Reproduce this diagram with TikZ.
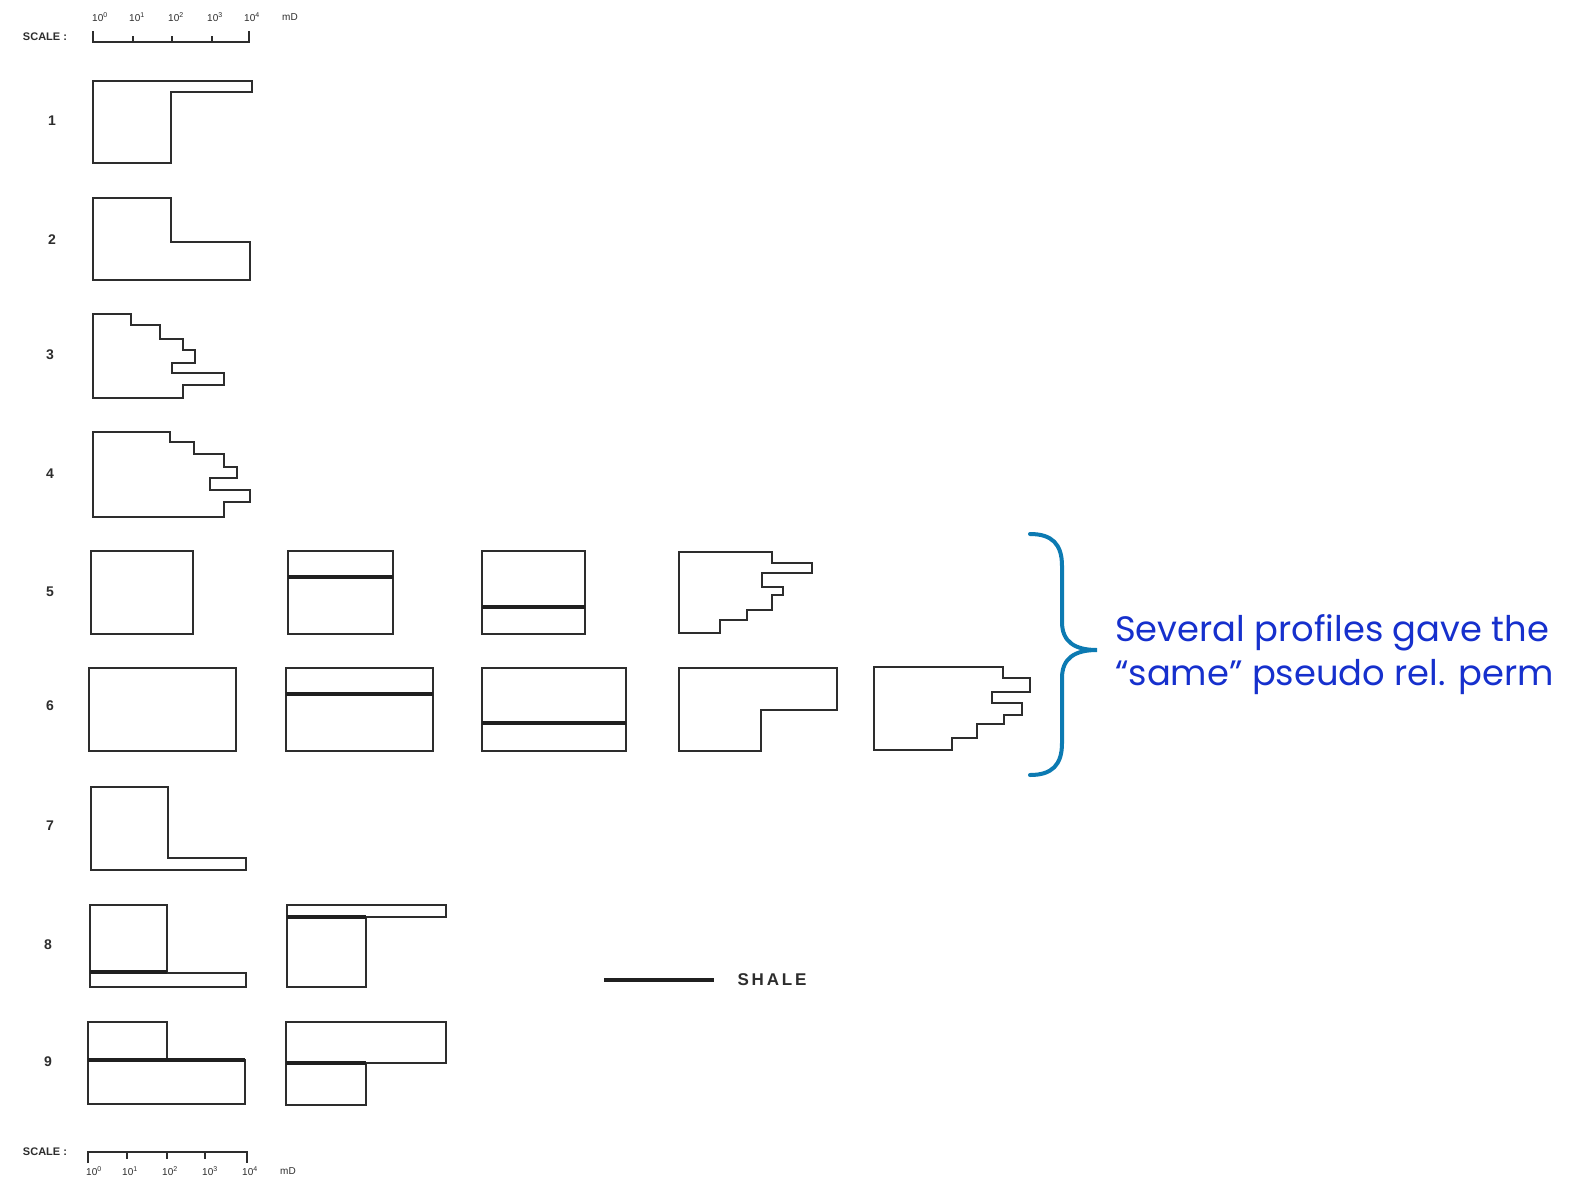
\documentclass[tikz,border=0pt]{standalone}
\usepackage{fontspec}
\setsansfont{Liberation Sans}
\newfontfamily\notefont{Poppins}
\definecolor{ink}{RGB}{45,45,45}
\definecolor{bracecol}{RGB}{12,122,178}
\definecolor{notecol}{RGB}{22,48,205}

\begin{document}
\begin{tikzpicture}[x=1pt,y=-1pt,
  prof/.style={draw=ink, line width=2.3pt, line join=miter},
  shale/.style={draw=ink!70!black, line width=4pt},
  rownum/.style={font=\sffamily\bfseries\fontsize{14}{14}\selectfont, text=ink, inner sep=0pt},
  scalelbl/.style={font=\sffamily\fontsize{10}{10}\selectfont, text=ink, inner sep=0pt},
  scaletxt/.style={font=\sffamily\bfseries\fontsize{11}{11}\selectfont, text=ink, inner sep=0pt},
  scaleline/.style={draw=ink, line width=1.5pt},
  note/.style={font=\notefont\fontsize{35.3}{44}\selectfont, text=notecol, inner sep=0pt, anchor=base west},
]
\useasboundingbox (0,0) rectangle (1579,1186);
\fill[white] (0,0) rectangle (1579,1186);

% ---------- permeability scale, top ----------
\node[scaletxt] (scaleT) at (45,37) {SCALE :};
\draw[scaleline] (93,31) -- (93,42) -- (249,42) -- (249,31);
\foreach \tx in {133,172,212} \draw[scaleline] (\tx,36) -- (\tx,42);
\foreach \tx/\ex [count=\i] in {100/0,137/1,176/2,215/3,252/4}
  \node[scalelbl] (topL\i) at (\tx,17) {10\textsuperscript{\ex}};
\node[scalelbl] (topmD) at (290,17) {mD};

% ---------- row labels ----------
\node[rownum] (n1) at (52,121) {1};
\node[rownum] (n2) at (52,240) {2};
\node[rownum] (n3) at (50,355) {3};
\node[rownum] (n4) at (50,474) {4};
\node[rownum] (n5) at (50,592) {5};
\node[rownum] (n6) at (50,706) {6};
\node[rownum] (n7) at (50,826) {7};
\node[rownum] (n8) at (48,945) {8};
\node[rownum] (n9) at (48,1062) {9};

% ---------- profile 1 ----------
\draw[prof] (93,81) -- (252,81) -- (252,92) -- (171,92) -- (171,163) -- (93,163) -- cycle;
% ---------- profile 2 ----------
\draw[prof] (93,198) -- (171,198) -- (171,242) -- (250,242) -- (250,280) -- (93,280) -- cycle;
% ---------- profile 3 ----------
\draw[prof] (93,314) -- (131,314) -- (131,325) -- (160,325) -- (160,339) -- (183,339)
  -- (183,350) -- (195,350) -- (195,363) -- (172,363) -- (172,373) -- (224,373)
  -- (224,385) -- (183,385) -- (183,398) -- (93,398) -- cycle;
% ---------- profile 4 ----------
\draw[prof] (93,432) -- (170,432) -- (170,442) -- (194,442) -- (194,454) -- (224,454)
  -- (224,467) -- (237,467) -- (237,478) -- (210,478) -- (210,490) -- (250,490)
  -- (250,502) -- (224,502) -- (224,517) -- (93,517) -- cycle;

% ---------- row 5 ----------
\draw[prof] (91,551) rectangle (193,634);
\draw[prof] (288,551) rectangle (393,634);
\draw[shale] (288,577) -- (393,577);
\draw[prof] (482,551) rectangle (585,634);
\draw[shale] (482,607) -- (585,607);
\draw[prof] (679,552) -- (772,552) -- (772,563) -- (812,563) -- (812,573) -- (762,573)
  -- (762,587) -- (783,587) -- (783,595) -- (772,595) -- (772,610) -- (747,610)
  -- (747,620) -- (720,620) -- (720,633) -- (679,633) -- cycle;

% ---------- row 6 ----------
\draw[prof] (89,668) rectangle (236,751);
\draw[prof] (286,668) rectangle (433,751);
\draw[shale] (286,694) -- (433,694);
\draw[prof] (482,668) rectangle (626,751);
\draw[shale] (482,723) -- (626,723);
\draw[prof] (679,668) -- (837,668) -- (837,710) -- (761,710) -- (761,751) -- (679,751) -- cycle;
\draw[prof] (874,667) -- (1003,667) -- (1003,678) -- (1030,678) -- (1030,692) -- (992,692)
  -- (992,703) -- (1022,703) -- (1022,715) -- (1004,715) -- (1004,724) -- (977,724)
  -- (977,738) -- (952,738) -- (952,750) -- (874,750) -- cycle;

% ---------- row 7 ----------
\draw[prof] (91,787) -- (168,787) -- (168,858) -- (246,858) -- (246,870) -- (91,870) -- cycle;

% ---------- row 8 ----------
\draw[prof] (90,905) -- (167,905) -- (167,973) -- (246,973) -- (246,987) -- (90,987) -- cycle;
\draw[shale] (90,972) -- (167,972);
\draw[prof] (287,905) -- (446,905) -- (446,917) -- (366,917) -- (366,987) -- (287,987) -- cycle;
\draw[shale] (287,917) -- (366,917);

% ---------- row 9 ----------
\draw[prof] (88,1022) -- (167,1022) -- (167,1060) -- (245,1060) -- (245,1104) -- (88,1104) -- cycle;
\draw[shale] (88,1060) -- (245,1060);
\draw[prof] (286,1022) -- (446,1022) -- (446,1063) -- (366,1063) -- (366,1105) -- (286,1105) -- cycle;
\draw[shale] (286,1063) -- (366,1063);

% ---------- shale legend ----------
\coordinate (legA) at (604,980);
\coordinate (legB) at (714,980);
\draw[shale] (legA) -- (legB);
\node[font=\sffamily\bfseries\fontsize{17}{17}\selectfont, text=ink, inner sep=0pt] (legT) at (772,980) {S\,H\,A\,L\,E};

% ---------- permeability scale, bottom ----------
\node[scaletxt] (scaleB) at (45,1152) {SCALE :};
\draw[scaleline] (88,1163) -- (88,1152) -- (247,1152) -- (247,1163);
\foreach \tx in {127,167,205} \draw[scaleline] (\tx,1152) -- (\tx,1159);
\foreach \tx/\ex [count=\i] in {94/0,130/1,170/2,210/3,250/4}
  \node[scalelbl] (botL\i) at (\tx,1171) {10\textsuperscript{\ex}};
\node[scalelbl] (botmD) at (288,1171) {mD};

% ---------- brace and note ----------
\coordinate (brTop) at (1030,534);
\coordinate (brTip) at (1097,650);
\coordinate (brBot) at (1030,775);
\draw[bracecol, line width=4pt, line cap=round]
  (brTop) .. controls (1052,534) and (1062,544) .. (1062,566) -- (1062,622)
  .. controls (1062,642) and (1075,650) .. (brTip)
  .. controls (1075,650) and (1062,658) .. (1062,678) -- (1062,743)
  .. controls (1062,765) and (1052,775) .. (brBot);
\node[note] (note1) at (1115,641) {Several profiles gave the};
\node[note] (note2) at (1115,685) {“same” pseudo rel. perm};
\end{tikzpicture}
\end{document}
